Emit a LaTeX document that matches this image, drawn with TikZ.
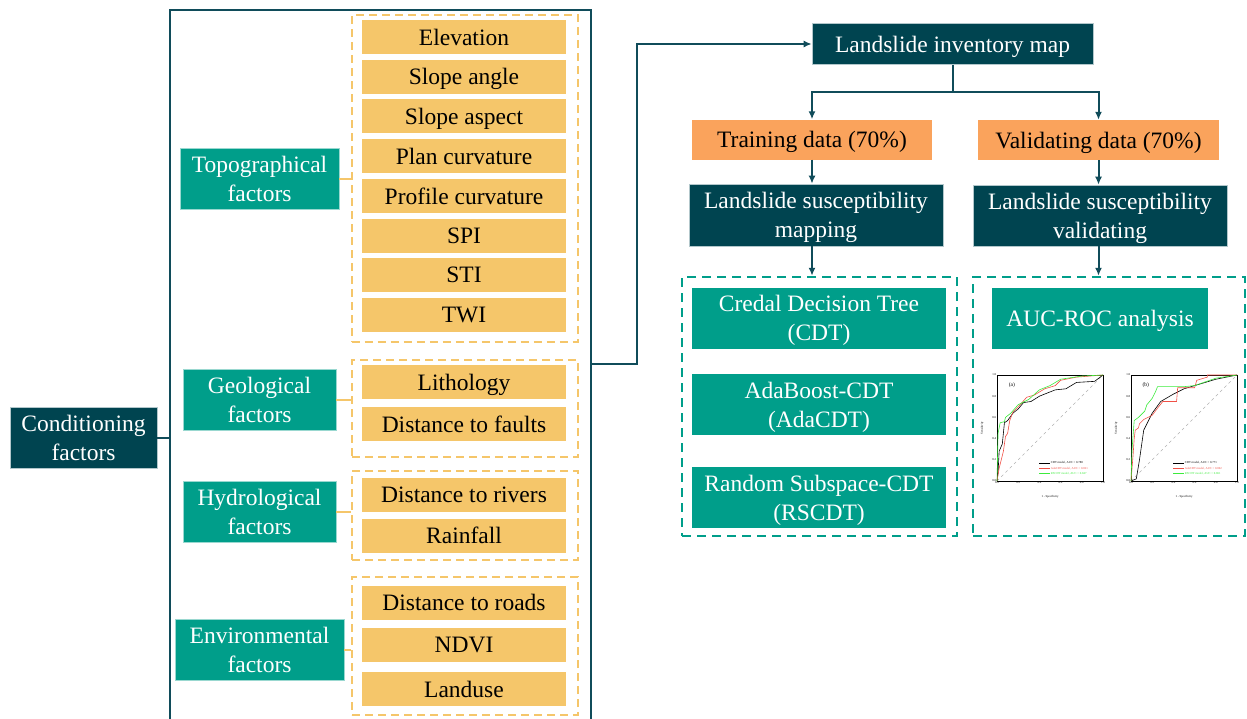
\documentclass[tikz,border=0pt]{standalone}
\usepackage{fontspec}
\setmainfont{Liberation Serif}
\usetikzlibrary{arrows.meta,positioning}
\definecolor{darkteal}{RGB}{0,68,80}
\definecolor{lineteal}{RGB}{16,76,90}
\definecolor{midteal}{RGB}{0,158,138}
\definecolor{sand}{RGB}{245,198,106}
\definecolor{peach}{RGB}{250,163,92}
\definecolor{rocred}{RGB}{240,80,70}
\definecolor{rocgreen}{RGB}{60,235,60}

\begin{document}
\begin{tikzpicture}[
	x=1pt, y=-1pt,
	every node/.style={font=\fontsize{23.5}{29}\selectfont},
	main/.style={
		rectangle,
		fill=darkteal,
		draw=white!70!darkteal,
		line width=0.6pt,
		text=white,
		align=center,
		text depth=0pt,
		inner sep=0pt
	},
	group/.style={
		rectangle,
		fill=midteal,
		draw=white!60!midteal,
		line width=0.6pt,
		text=white,
		align=center,
		text depth=0pt,
		inner sep=0pt,
		minimum height=61pt
	},
	factor/.style={
		rectangle,
		fill=sand,
		text=black,
		align=center,
		text depth=0pt,
		inner sep=0pt,
		minimum width=204pt,
		minimum height=34pt
	},
	dataset/.style={
		rectangle,
		fill=peach,
		text=black,
		align=center,
		text depth=0pt,
		inner sep=0pt,
		minimum height=40pt
	},
	model/.style={
		rectangle,
		fill=midteal,
		text=white,
		align=center,
		text depth=0pt,
		inner sep=0pt,
		minimum width=254pt,
		minimum height=61pt
	},
	sandbox/.style={
		rectangle,
		draw=sand,
		line width=2pt,
		dash pattern=on 8pt off 5pt,
		inner sep=0pt
	},
	tealbox/.style={
		rectangle,
		draw=midteal,
		line width=2.5pt,
		dash pattern=on 9pt off 6pt,
		inner sep=0pt
	},
	link/.style={draw=lineteal, line width=2pt},
	flow/.style={link, -{Latex[length=8pt,width=7pt]}},
	branch/.style={draw=sand, line width=2pt},
	ticklbl/.style={font=\fontsize{3}{3.5}\selectfont, inner sep=0.6pt},
	curve/.style={line width=0.6pt},
]
\useasboundingbox (0,0) rectangle (1247,718);

% Frame
\coordinate (frameTL) at (170,10);
\coordinate (frameTR) at (591,10);
\coordinate (frameBL) at (170,722);
\coordinate (frameBR) at (591,722);
\draw[link, line width=2.5pt] (frameBL) -- (frameTL) -- (frameTR) -- (frameBR);

% Conditioning factors
\node[main, minimum width=147pt, minimum height=61pt] (cond) at (83.5,437.5) {Conditioning\\factors};
\draw[link] (cond.east) -- (cond.east -| frameTL);

% Factor groups
\node[group, minimum width=159pt] (topo) at (259.5,179) {Topographical\\factors};
\node[group, minimum width=153pt] (geo) at (259.5,400) {Geological\\factors};
\node[group, minimum width=153pt] (hydro) at (259.5,512) {Hydrological\\factors};
\node[group, minimum width=169pt] (env) at (259.5,650) {Environmental\\factors};

% Dashed groups
\node[sandbox, minimum width=226pt, minimum height=327pt] (topobox) at (464.5,178.5) {};
\node[sandbox, minimum width=226pt, minimum height=97pt] (geobox) at (465,408.5) {};
\node[sandbox, minimum width=226pt, minimum height=89pt] (hydrobox) at (465,515.5) {};
\node[sandbox, minimum width=226pt, minimum height=138pt] (envbox) at (465,646) {};

% Factors
\foreach \t [count=\i] in {Elevation, Slope angle, Slope aspect, Plan curvature, Profile curvature, SPI, STI, TWI}
	\node[factor] (topo\i) at (464, 37+39.7*\i-39.7) {\t};
\node[factor] (geo1) at (464,382) {Lithology};
\node[factor] (geo2) at (464,424) {Distance to faults};
\node[factor] (hydro1) at (464,495) {Distance to rivers};
\node[factor] (hydro2) at (464,535.5) {Rainfall};
\node[factor] (env1) at (464,602.5) {Distance to roads};
\node[factor] (env2) at (464,645) {NDVI};
\node[factor] (env3) at (464,689) {Landuse};

% Connection groups
\foreach \g in {topo, geo, hydro, env}
	\draw[branch] (\g.east) -- (\g.east -| \g box.west);

% Inventory
\coordinate (bend) at (637,364);
\node[main, minimum width=281pt, minimum height=41pt] (inv) at (952.5,44) {Landslide inventory map};
\draw[flow] (bend -| frameTR) -- (bend) |- (inv.west);

% Training / validating
\coordinate (fork) at (952.5,92);
\node[dataset, minimum width=240pt] (train) at (812,139.5) {Training data (70\%)};
\node[dataset, minimum width=241pt] (valid) at (1098.5,140) {Validating data (70\%)};
\draw[link] (inv.south) -- (fork);
\draw[flow] (fork) -| (train.north);
\draw[flow] (fork) -| (valid.north);

\node[main, minimum width=254pt, minimum height=62pt] (lsm) at (816,215) {Landslide susceptibility\\mapping};
\node[main, minimum width=254pt, minimum height=61pt] (lsv) at (1100,215.5) {Landslide susceptibility\\validating};
\draw[flow] (train.south) -- (train.south |- lsm.north);
\draw[flow] (valid.south) -- (valid.south |- lsv.north);

% Models
\node[tealbox, minimum width=275pt, minimum height=259pt] (modelbox) at (819.5,406.5) {};
\node[tealbox, minimum width=272pt, minimum height=259pt] (rocbox) at (1109,406.5) {};
\draw[flow] (train.south |- lsm.south) -- (train.south |- modelbox.north);
\draw[flow] (valid.south |- lsv.south) -- (valid.south |- rocbox.north);

\node[model] (cdt) at (819,318) {Credal Decision Tree\\(CDT)};
\node[model] (adacdt) at (819,404.5) {AdaBoost-CDT\\(AdaCDT)};
\node[model] (rscdt) at (819,497.5) {Random Subspace-CDT\\(RSCDT)};
\node[model, minimum width=216pt] (auc) at (1100,318) {AUC-ROC analysis};

% ROC panels
\foreach \p/\px/\lbl in {a/997/{(a)}, b/1131/{(b)}} {
	\begin{scope}[shift={(\px pt,-481pt)}, x=106pt, y=106pt]
		\draw[black, line width=0.4pt] (0,0) rectangle (1,1);
		\draw[gray!60, dashed, line width=0.4pt] (0,0) -- (1,1);
		\foreach \v [count=\k] in {0.0,0.2,0.4,0.6,0.8,1.0} {
			\node[ticklbl, below] (xt\p\k) at (\v,0) {\v};
			\node[ticklbl, left] (yt\p\k) at (0,\v) {\v};
		}
		\node[ticklbl, rotate=90] (ylab\p) at (-0.14,0.5) {Sensitivity};
		\node[ticklbl] (xlab\p) at (0.5,-0.15) {1 - Specificity};
		\node[font=\fontsize{5.5}{6}\selectfont, inner sep=0pt] (tag\p) at (0.14,0.9) {\lbl};
	\end{scope}
}

% ROC curves (a)
\begin{scope}[shift={(997pt,-481pt)}, x=106pt, y=106pt]
	\draw[curve, black] plot coordinates {(0,0) (0.01,0.08) (0.02,0.28) (0.05,0.35) (0.07,0.55) (0.1,0.57) (0.15,0.64) (0.2,0.68) (0.25,0.74) (0.32,0.75) (0.4,0.8) (0.55,0.86) (0.65,0.87) (0.75,0.93) (0.92,0.94) (1,1)};
	\draw[curve, rocred] plot coordinates {(0,0) (0.02,0.12) (0.06,0.28) (0.08,0.42) (0.1,0.45) (0.12,0.57) (0.15,0.65) (0.2,0.7) (0.28,0.79) (0.35,0.81) (0.45,0.87) (0.55,0.9) (0.6,0.95) (0.75,0.98) (1,1)};
	\draw[curve, rocgreen] plot coordinates {(0,0) (0.01,0.45) (0.03,0.55) (0.07,0.56) (0.08,0.6) (0.13,0.64) (0.2,0.72) (0.3,0.77) (0.4,0.86) (0.5,0.9) (0.6,0.96) (0.8,0.99) (1,1)};
	\foreach \c/\n/\yy [count=\k] in {black/{CDT model, AUC = 0.788}/0.17, rocred/{AdaCDT model, AUC = 0.821}/0.12, rocgreen/{RSCDT model, AUC = 0.847}/0.07} {
		\coordinate (lga\k) at (0.4,\yy);
		\draw[curve, \c] (lga\k) -- ++(0.1,0) node[ticklbl, right] (lgta\k) {\n};
	}
\end{scope}

% ROC curves (b)
\begin{scope}[shift={(1131pt,-481pt)}, x=106pt, y=106pt]
	\draw[curve, black] plot coordinates {(0,0) (0.05,0.02) (0.08,0.2) (0.12,0.48) (0.2,0.64) (0.28,0.75) (0.4,0.82) (0.5,0.87) (0.6,0.9) (0.8,0.96) (1,1)};
	\draw[curve, rocred] plot coordinates {(0,0) (0.02,0.25) (0.03,0.4) (0.04,0.48) (0.07,0.5) (0.08,0.54) (0.12,0.58) (0.2,0.62) (0.26,0.7) (0.3,0.75) (0.43,0.75) (0.44,0.88) (0.6,0.88) (0.62,0.95) (0.72,0.98) (0.72,1) (1,1)};
	\draw[curve, rocgreen] plot coordinates {(0,0) (0.01,0.3) (0.03,0.57) (0.07,0.6) (0.13,0.66) (0.15,0.72) (0.2,0.78) (0.23,0.84) (0.25,0.89) (0.5,0.89) (0.6,0.9) (0.8,0.97) (1,1)};
	\foreach \c/\n/\yy [count=\k] in {black/{CDT model, AUC = 0.771}/0.17, rocred/{AdaCDT model, AUC = 0.802}/0.12, rocgreen/{RSCDT model, AUC = 0.861}/0.07} {
		\coordinate (lgb\k) at (0.4,\yy);
		\draw[curve, \c] (lgb\k) -- ++(0.1,0) node[ticklbl, right] (lgtb\k) {\n};
	}
\end{scope}

\end{tikzpicture}
\end{document}
